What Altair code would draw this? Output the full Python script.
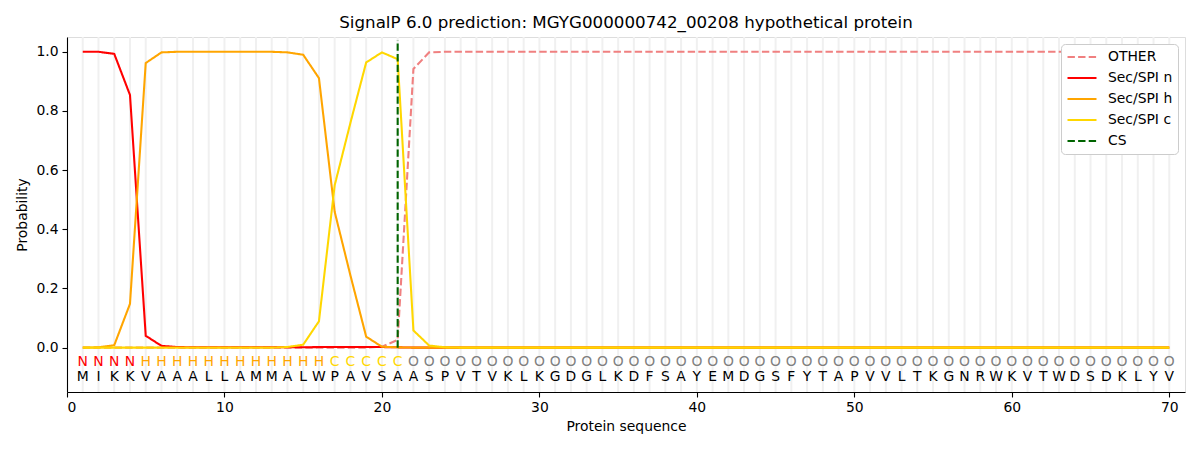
import altair as alt
import pandas as pd

title_text = "SignalP 6.0 prediction: MGYG000000742_00208 hypothetical protein"

sequence = list("MIKKVAAALLAMMALWPAVSAASPVTVKLKGDGLKDFSAYEMDGSFYTAPVVLTKGNRWKVTWDSDKLYV")
region_labels = list("NNNNHHHHHHHHHHHHCCCCCOOOOOOOOOOOOOOOOOOOOOOOOOOOOOOOOOOOOOOOOOOOOOOOOO")

other = [0.0, 0.0, 0.0, 0.0, 0.0, 0.0, 0.0, 0.0, 0.0, 0.0,
         0.0, 0.0, 0.0, 0.0, 0.0, 0.0, 0.0, 0.0, 0.0, 0.003,
         0.026, 0.942, 0.998, 1.0, 1.0, 1.0, 1.0, 1.0, 1.0, 1.0,
         1.0, 1.0, 1.0, 1.0, 1.0, 1.0, 1.0, 1.0, 1.0, 1.0,
         1.0, 1.0, 1.0, 1.0, 1.0, 1.0, 1.0, 1.0, 1.0, 1.0,
         1.0, 1.0, 1.0, 1.0, 1.0, 1.0, 1.0, 1.0, 1.0, 1.0,
         1.0, 1.0, 1.0, 1.0, 1.0, 1.0, 1.0, 1.0, 1.0, 1.0]
sec_n = [1.0, 1.0, 0.993, 0.854, 0.04, 0.006, 0.002, 0.001, 0.001, 0.001,
         0.001, 0.001, 0.001, 0.001, 0.001, 0.002, 0.002, 0.002, 0.002, 0.002,
         0.001, 0.0, 0.0, 0.0, 0.0, 0.0, 0.0, 0.0, 0.0, 0.0,
         0.0, 0.0, 0.0, 0.0, 0.0, 0.0, 0.0, 0.0, 0.0, 0.0,
         0.0, 0.0, 0.0, 0.0, 0.0, 0.0, 0.0, 0.0, 0.0, 0.0,
         0.0, 0.0, 0.0, 0.0, 0.0, 0.0, 0.0, 0.0, 0.0, 0.0,
         0.0, 0.0, 0.0, 0.0, 0.0, 0.0, 0.0, 0.0, 0.0, 0.0]
sec_h = [0.0, 0.001, 0.008, 0.148, 0.962, 0.998, 1.0, 1.0, 1.0, 1.0,
         1.0, 1.0, 1.0, 0.998, 0.99, 0.911, 0.459, 0.244, 0.037, 0.003,
         0.001, 0.0, 0.0, 0.0, 0.0, 0.0, 0.0, 0.0, 0.0, 0.0,
         0.0, 0.0, 0.0, 0.0, 0.0, 0.0, 0.0, 0.0, 0.0, 0.0,
         0.0, 0.0, 0.0, 0.0, 0.0, 0.0, 0.0, 0.0, 0.0, 0.0,
         0.0, 0.0, 0.0, 0.0, 0.0, 0.0, 0.0, 0.0, 0.0, 0.0,
         0.0, 0.0, 0.0, 0.0, 0.0, 0.0, 0.0, 0.0, 0.0, 0.0]
sec_c = [0.0, 0.0, 0.0, 0.0, 0.0, 0.0, 0.0, 0.0, 0.0, 0.0,
         0.0, 0.0, 0.0, 0.002, 0.01, 0.089, 0.549, 0.76, 0.964, 0.998,
         0.975, 0.058, 0.007, 0.001, 0.0, 0.0, 0.0, 0.0, 0.0, 0.0,
         0.0, 0.0, 0.0, 0.0, 0.0, 0.0, 0.0, 0.0, 0.0, 0.0,
         0.0, 0.0, 0.0, 0.0, 0.0, 0.0, 0.0, 0.0, 0.0, 0.0,
         0.0, 0.0, 0.0, 0.0, 0.0, 0.0, 0.0, 0.0, 0.0, 0.0,
         0.0, 0.0, 0.0, 0.0, 0.0, 0.0, 0.0, 0.0, 0.0, 0.0]
cs_position = [21]

series_names = ["OTHER", "Sec/SPI n", "Sec/SPI h", "Sec/SPI c", "CS"]
series_colors = ["#f08080", "#ff0000", "#ffa500", "#ffd700", "#006400"]
series_dashes = [[7.4, 3.2], [1, 0], [1, 0], [1, 0], [7.4, 3.2]]
label_colors = {"N": "#ff0000", "H": "#ffa500", "C": "#ffd700", "O": "#808080"}

FONT = "DejaVu Sans"
LW = 2.08
positions = list(range(1, len(sequence) + 1))

rows = []
for name, vals in [("OTHER", other), ("Sec/SPI n", sec_n), ("Sec/SPI h", sec_h), ("Sec/SPI c", sec_c)]:
    for p, v in zip(positions, vals):
        rows.append({"pos": p, "prob": v, "series": name})
lines_df = pd.DataFrame(rows)
seq_df = pd.DataFrame({"pos": positions, "aa": sequence, "region": region_labels})
cs_df = pd.DataFrame({"pos": cs_position, "series": ["CS"], "y0": [0.0], "y1": [1.04]})

x_scale = alt.Scale(domain=[0, 71], nice=False, zero=False)
y_scale = alt.Scale(domain=[-0.15, 1.05], nice=False, zero=False)

x_axis = alt.Axis(values=[0, 10, 20, 30, 40, 50, 60, 70], title="Protein sequence", grid=False,
                  labelFontSize=13.9, titleFontSize=13.9, titleFontWeight="normal",
                  labelFont=FONT, titleFont=FONT, tickSize=5, tickWidth=1.1, domainWidth=1.1,
                  labelPadding=3, titlePadding=6,
                  domainColor="black", tickColor="black", labelColor="black", titleColor="black")
y_axis = alt.Axis(values=[0.0, 0.2, 0.4, 0.6, 0.8, 1.0], format=".1f", title="Probability", grid=False,
                  labelFontSize=13.9, titleFontSize=13.9, titleFontWeight="normal",
                  labelFont=FONT, titleFont=FONT, tickSize=5, tickWidth=1.1, domainWidth=1.1,
                  labelPadding=4, titlePadding=6,
                  domainColor="black", tickColor="black", labelColor="black", titleColor="black")

legend = alt.Legend(title=None, orient="top-right", offset=7, symbolType="stroke", symbolSize=841,
                    symbolStrokeWidth=LW, labelFontSize=13.9, labelFont=FONT, labelColor="black",
                    fillColor="white", strokeColor="#cccccc", cornerRadius=4, padding=5,
                    rowPadding=5, clipHeight=16, labelOffset=10)
color_enc = alt.Color("series:N", scale=alt.Scale(domain=series_names, range=series_colors), legend=legend)
dash_enc = alt.StrokeDash("series:N", scale=alt.Scale(domain=series_names, range=series_dashes), legend=legend)

grid = alt.Chart(seq_df).mark_rule(color="#f0f0f0", strokeWidth=2).encode(
    x=alt.X("pos:Q", scale=x_scale, axis=x_axis)
)

layers = [grid]
for name in ["OTHER", "Sec/SPI n", "Sec/SPI h", "Sec/SPI c"]:
    layers.append(
        alt.Chart(lines_df).transform_filter(alt.datum.series == name).mark_line(strokeWidth=LW).encode(
            x=alt.X("pos:Q", scale=x_scale, axis=x_axis),
            y=alt.Y("prob:Q", scale=y_scale, axis=y_axis),
            color=color_enc,
            strokeDash=dash_enc,
            order="pos:Q",
        )
    )

cs_rule = alt.Chart(cs_df).mark_rule(strokeWidth=LW).encode(
    x=alt.X("pos:Q", scale=x_scale, axis=x_axis),
    y=alt.Y("y0:Q", scale=y_scale, axis=y_axis),
    y2="y1:Q",
    color=color_enc,
    strokeDash=dash_enc,
)
layers.append(cs_rule)

for reg, col in label_colors.items():
    layers.append(
        alt.Chart(seq_df).transform_filter(alt.datum.region == reg).mark_text(
            font=FONT, fontSize=13.9, color=col, baseline="middle", align="center"
        ).encode(
            x=alt.X("pos:Q", scale=x_scale, axis=x_axis),
            y=alt.datum(-0.047),
            text="region:N",
        )
    )

layers.append(
    alt.Chart(seq_df).mark_text(font=FONT, fontSize=13.9, color="black", baseline="middle", align="center").encode(
        x=alt.X("pos:Q", scale=x_scale, axis=x_axis),
        y=alt.datum(-0.098),
        text="aa:N",
    )
)

chart = alt.layer(*layers).properties(
    width=1118,
    height=355,
    title=alt.TitleParams(title_text, fontSize=16.7, font=FONT, fontWeight="normal", anchor="middle",
                          color="black", offset=4),
    autosize=alt.AutoSizeParams(type="none"),
    padding={"left": 59, "top": 29, "right": 7, "bottom": 50},
).configure_view(stroke="black", strokeWidth=1.1).configure(background="white")

chart.save("out.html", embed_options={"renderer": "svg", "actions": False})
